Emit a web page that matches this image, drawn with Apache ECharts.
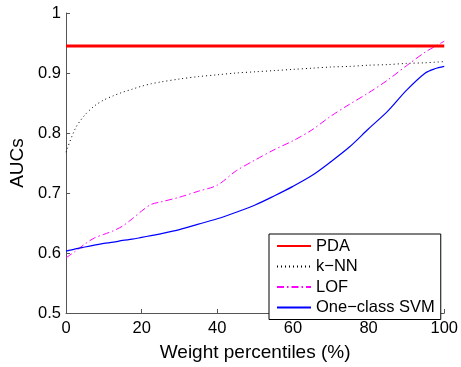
<!DOCTYPE html>
<html>
<head>
<meta charset="utf-8">
<script src="https://cdn.jsdelivr.net/npm/echarts@6/dist/echarts.min.js"></script>
<style>
  html, body { margin: 0; padding: 0; background: #fff; }
  #chart { width: 461px; height: 367px; }
</style>
</head>
<body>
<div id="chart"></div>
<script>
// Weight percentiles (%) at which the AUC of each detector was evaluated
const percentiles = [0, 2.5, 5, 7.5, 10, 12.5, 15, 17.5, 20, 22.5, 25, 30, 35, 40, 45, 50, 55, 60, 65, 70, 75, 80, 85, 90, 95, 97.5, 100];

const pdaAuc = 0.945;
const knnAuc = [0.768, 0.808, 0.830, 0.845, 0.855, 0.862, 0.868, 0.873, 0.878, 0.882, 0.885, 0.890, 0.894, 0.897, 0.900, 0.902, 0.904, 0.906, 0.908, 0.910, 0.911, 0.913, 0.914, 0.916, 0.917, 0.918, 0.919];
const lofAuc = [0.592, 0.603, 0.615, 0.625, 0.631, 0.637, 0.645, 0.657, 0.670, 0.681, 0.685, 0.693, 0.703, 0.713, 0.737, 0.755, 0.772, 0.787, 0.805, 0.828, 0.848, 0.867, 0.888, 0.912, 0.935, 0.944, 0.953];
const svmAuc = [0.603, 0.607, 0.610, 0.613, 0.616, 0.618, 0.621, 0.623, 0.626, 0.629, 0.632, 0.639, 0.648, 0.657, 0.668, 0.680, 0.695, 0.711, 0.729, 0.752, 0.777, 0.807, 0.836, 0.871, 0.900, 0.907, 0.911];

const seriesNames = ['PDA', 'k\u2212NN', 'LOF', 'One\u2212class SVM'];
const xTicks = [0, 20, 40, 60, 80, 100];
const yTicks = [0.5, 0.6, 0.7, 0.8, 0.9, 1];

const FONT = '"Liberation Sans", Arial, Helvetica, sans-serif';
const AXIS_COLOR = '#555';

const pairs = (ys) => percentiles.map((x, i) => [x, ys[i]]);

const chart = echarts.init(document.getElementById('chart'), null, { renderer: 'canvas' });

chart.setOption({
  animation: false,
  backgroundColor: '#fff',
  grid: { left: 66, right: 15, top: 13, bottom: 43, containLabel: false },
  xAxis: {
    type: 'value',
    min: 0, max: 100, interval: 20,
    name: 'Weight percentiles (%)',
    nameLocation: 'middle',
    nameGap: 30,
    nameTextStyle: { fontFamily: FONT, fontSize: 19, color: '#000' },
    axisLine: { show: true, lineStyle: { color: AXIS_COLOR, width: 1 } },
    axisTick: { show: true, inside: true, length: 4, lineStyle: { color: AXIS_COLOR } },
    axisLabel: {
      fontFamily: FONT, fontSize: 16.5, color: '#000', margin: 7,
      formatter: (v) => xTicks.includes(v) ? String(v) : ''
    },
    splitLine: { show: false }
  },
  yAxis: {
    type: 'value',
    min: 0.5, max: 1, interval: 0.1,
    name: 'AUCs',
    nameLocation: 'middle',
    nameGap: 29,
    nameTextStyle: { fontFamily: FONT, fontSize: 19, color: '#000' },
    axisLine: { show: true, lineStyle: { color: AXIS_COLOR, width: 1 } },
    axisTick: { show: true, inside: true, length: 4, lineStyle: { color: AXIS_COLOR } },
    axisLabel: {
      fontFamily: FONT, fontSize: 16.5, color: '#000', margin: 5,
      formatter: (v) => {
        const t = yTicks.find(y => Math.abs(y - v) < 1e-6);
        return t === undefined ? '' : String(t);
      }
    },
    splitLine: { show: false }
  },
  legend: {
    orient: 'vertical',
    left: 269, top: 234,
    padding: [3, 6, 3, 7],
    itemWidth: 34, itemHeight: 14, itemGap: 2.5,
    itemStyle: { opacity: 0 },
    backgroundColor: '#fff',
    borderColor: '#000', borderWidth: 1, borderRadius: 0,
    textStyle: { fontFamily: FONT, fontSize: 16.5, color: '#000', lineHeight: 18 },
    data: seriesNames
  },
  series: [
    {
      name: seriesNames[0], type: 'line', symbol: 'none',
      data: [[0, pdaAuc], [100, pdaAuc]],
      lineStyle: { color: '#ff0000', width: 3 }, itemStyle: { color: '#ff0000' }, z: 5
    },
    {
      name: seriesNames[1], type: 'line', symbol: 'none', smooth: 0.3,
      data: pairs(knnAuc),
      lineStyle: { color: '#000', width: 1, type: [1, 3] }, itemStyle: { color: '#000' }
    },
    {
      name: seriesNames[2], type: 'line', symbol: 'none', smooth: 0.3,
      data: pairs(lofAuc),
      lineStyle: { color: '#ff00ff', width: 1, type: [7, 3, 1.5, 3] }, itemStyle: { color: '#ff00ff' }
    },
    {
      name: seriesNames[3], type: 'line', symbol: 'none', smooth: 0.3,
      data: pairs(svmAuc),
      lineStyle: { color: '#0000ff', width: 1.2 }, itemStyle: { color: '#0000ff' }
    }
  ]
});
</script>
</body>
</html>
